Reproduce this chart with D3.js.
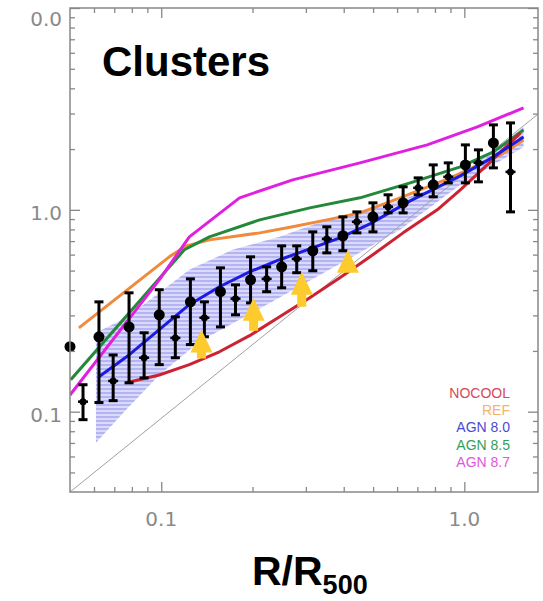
<!DOCTYPE html>
<html>
<head>
<meta charset="utf-8">
<script src="https://cdn.jsdelivr.net/npm/d3@7"></script>
<style>
  html, body { margin: 0; padding: 0; background: #fff; }
  svg { display: block; }
</style>
</head>
<body>
<div id="chart"></div>
<script>
// ---------- data (R/R500 vs K/K500) ----------
const xTickValues = [0.1, 1.0];
const xTickLabels = ["0.1", "1.0"];
const xMinorTicks = [0.06, 0.07, 0.08, 0.09, 0.2, 0.3, 0.4, 0.5, 0.6, 0.7, 0.8, 0.9];
const yTickValues = [0.1, 1.0, 10.0];
const yTickLabels = ["0.1", "1.0", "0.0"];
const yMinorTicks = [0.05, 0.06, 0.07, 0.08, 0.09, 0.2, 0.3, 0.4, 0.5, 0.6, 0.7, 0.8, 0.9, 2, 3, 4, 5, 6, 7, 8, 9];

// observed clusters, sample A (large dots)
const bigR  = [0.05, 0.0623, 0.0783, 0.0985, 0.1248, 0.1568, 0.1971, 0.2496, 0.3162, 0.3975, 0.4995, 0.6281, 0.7896, 1.008, 1.247];
const bigK  = [0.21, 0.235, 0.263, 0.302, 0.350, 0.393, 0.450, 0.522, 0.627, 0.744, 0.923, 1.083, 1.330, 1.670, 2.146];
const bigLo = [0.21, 0.111, 0.139, 0.171, 0.215, 0.263, 0.346, 0.411, 0.499, 0.627, 0.778, 0.966, 1.160, 1.360, 1.614];
const bigHi = [0.21, 0.350, 0.388, 0.402, 0.455, 0.516, 0.585, 0.663, 0.778, 0.923, 1.083, 1.300, 1.670, 2.098, 2.636];

// observed clusters, sample B (small dots)
const smallR  = [0.0552, 0.0694, 0.0878, 0.1113, 0.1388, 0.1758, 0.2227, 0.2799, 0.3518, 0.4421, 0.5603, 0.7042, 0.8851, 1.113, 1.420];
const smallK  = [0.1121, 0.142, 0.185, 0.232, 0.292, 0.363, 0.455, 0.572, 0.718, 0.872, 1.035, 1.285, 1.457, 1.709, 1.542];
const smallLo = [0.0913, 0.1134, 0.147, 0.185, 0.235, 0.302, 0.393, 0.488, 0.612, 0.769, 0.966, 1.187, 1.360, 1.376, 0.977];
const smallHi = [0.136, 0.191, 0.246, 0.295, 0.350, 0.425, 0.522, 0.663, 0.824, 0.977, 1.187, 1.440, 1.709, 1.982, 2.696];

// lower limits (yellow arrows)
const arrowR = [0.1357, 0.2017, 0.2908, 0.4128];
const arrowK = [0.255, 0.367, 0.493, 0.634];

// simulation models
const nocoolR = [0.0766, 0.0985, 0.1238, 0.1556, 0.1956, 0.2458, 0.3091, 0.3885, 0.4884, 0.6281, 0.8141, 0.970, 1.219, 1.532];
const nocoolK = [0.139, 0.152, 0.171, 0.198, 0.238, 0.295, 0.367, 0.461, 0.585, 0.769, 1.0, 1.256, 1.729, 2.406];

const refR = [0.0535, 0.1063, 0.1210, 0.1442, 0.2112, 0.2715, 0.3518, 0.4524, 0.6139, 0.8987, 1.316, 1.568];
const refK = [0.260, 0.585, 0.663, 0.710, 0.769, 0.824, 0.892, 0.966, 1.147, 1.440, 1.872, 2.221];

const agn80R = [0.0623, 0.0783, 0.0985, 0.1238, 0.1556, 0.1956, 0.2458, 0.3091, 0.3885, 0.4884, 0.6626, 0.970, 1.247, 1.568];
const agn80K = [0.149, 0.191, 0.255, 0.339, 0.416, 0.493, 0.566, 0.641, 0.727, 0.852, 1.108, 1.473, 1.830, 2.298];

const agn85R = [0.0503, 0.1192, 0.1442, 0.2112, 0.3091, 0.4524, 0.6626, 0.970, 1.247, 1.568];
const agn85K = [0.144, 0.634, 0.735, 0.892, 1.023, 1.147, 1.360, 1.633, 1.937, 2.489];

const agn87R = [0.05, 0.0985, 0.1238, 0.1813, 0.2715, 0.4524, 0.7542, 1.104, 1.568];
const agn87K = [0.121, 0.450, 0.735, 1.147, 1.408, 1.709, 2.098, 2.576, 3.199];

// AGN 8.0 scatter band
const bandUpR = [0.0609, 0.0766, 0.0985, 0.1238, 0.1718, 0.2458, 0.3518, 0.5821, 0.970, 1.568];
const bandUpK = [0.246, 0.292, 0.388, 0.505, 0.634, 0.735, 0.892, 1.083, 1.440, 2.576];
const bandLoR = [0.0609, 0.0766, 0.0985, 0.1336, 0.2227, 0.3683, 0.6139, 0.970, 1.568];
const bandLoK = [0.0702, 0.1023, 0.152, 0.222, 0.339, 0.516, 0.796, 1.330, 2.05];

// self-similar reference line
const baseR = [0.05, 1.75];
const baseK = [0.04, 2.98];

const legendNames = ["NOCOOL", "REF", "AGN 8.0", "AGN 8.5", "AGN 8.7"];

// ---------- layout ----------
const W = 543, H = 601;
const L = 70, R = 538, T = 8, B = 492;

const svg = d3.select("#chart").append("svg").attr("width", W).attr("height", H);

const x = d3.scaleLog().domain([0.05, 1.75]).range([L, R]);
const y = d3.scaleLog().domain([0.04, 10]).range([B, T]);

const defs = svg.append("defs");
const pat = defs.append("pattern").attr("id", "hatch").attr("patternUnits", "userSpaceOnUse")
  .attr("width", 8).attr("height", 4);
pat.append("rect").attr("width", 8).attr("height", 4).attr("fill", "rgba(150,150,240,0.35)");
pat.append("line").attr("x1", 0).attr("x2", 8).attr("y1", 1).attr("y2", 1)
  .attr("stroke", "rgba(80,80,230,0.55)").attr("stroke-width", 1);
defs.append("clipPath").attr("id", "clip").append("rect")
  .attr("x", L).attr("y", T).attr("width", R - L).attr("height", B - T);

const zip = (a, b) => a.map((v, i) => [v, b[i]]);
const line = d3.line().x(d => x(d[0])).y(d => y(d[1]));

const plot = svg.append("g").attr("clip-path", "url(#clip)");

// band
const bandPts = zip(bandUpR, bandUpK).concat(zip(bandLoR, bandLoK).reverse());
plot.append("path").attr("d", line(bandPts) + "Z").attr("fill", "url(#hatch)").attr("stroke", "none");

// baseline
plot.append("path").attr("d", line(zip(baseR, baseK))).attr("fill", "none")
  .attr("stroke", "#a0a0a0").attr("stroke-width", 1);

// model lines
const models = [
  { r: refR, k: refK, c: "#f08a3c" },
  { r: agn85R, k: agn85K, c: "#23883a" },
  { r: agn87R, k: agn87K, c: "#e020e0" },
  { r: nocoolR, k: nocoolK, c: "#cc2233" },
  { r: agn80R, k: agn80K, c: "#1c1ce0" }
];
models.forEach(m => {
  plot.append("path").attr("d", line(zip(m.r, m.k))).attr("fill", "none")
    .attr("stroke", m.c).attr("stroke-width", 3).attr("stroke-linejoin", "round");
});

// error bars + points
function drawSet(rs, ks, lo, hi, rad) {
  const g = svg.append("g");
  rs.forEach((r, i) => {
    const cx = x(r);
    if (hi[i] !== lo[i]) {
      g.append("line").attr("x1", cx).attr("x2", cx).attr("y1", y(lo[i])).attr("y2", y(hi[i]))
        .attr("stroke", "#000").attr("stroke-width", 3);
      [lo[i], hi[i]].forEach(v => {
        g.append("line").attr("x1", cx - 4.5).attr("x2", cx + 4.5).attr("y1", y(v)).attr("y2", y(v))
          .attr("stroke", "#000").attr("stroke-width", 3);
      });
    }
    g.append("circle").attr("cx", cx).attr("cy", y(ks[i])).attr("r", rad).attr("fill", "#000");
  });
}
drawSet(bigR, bigK, bigLo, bigHi, 5.5);
drawSet(smallR, smallK, smallLo, smallHi, 3.5);
smallR.forEach((r, i) => {
  svg.append("line").attr("x1", x(r) - 5).attr("x2", x(r) + 5).attr("y1", y(smallK[i])).attr("y2", y(smallK[i]))
    .attr("stroke", "#000").attr("stroke-width", 2.5);
});

// arrows (lower limits)
const stems = [6, 10, 12, 0];
arrowR.forEach((r, i) => {
  const ax = x(r), ay = y(arrowK[i]);
  const s = stems[i];
  let d = `M${ax},${ay} L${ax + 11},${ay + 23} L${ax + 4.5},${ay + 23}`;
  d += ` L${ax + 4.5},${ay + 23 + s} L${ax - 4.5},${ay + 23 + s} L${ax - 4.5},${ay + 23}`;
  d += ` L${ax - 11},${ay + 23} Z`;
  svg.append("path").attr("d", d).attr("fill", "#fecb2e");
});

// axes (ticks inside on all sides)
const axisColor = "#888";
function styleAxis(g) {
  g.select(".domain").remove();
  g.selectAll("line").attr("stroke", axisColor).attr("stroke-width", 1.3);
  g.selectAll("text").remove();
}
svg.append("g").attr("transform", `translate(0,${B})`)
  .call(d3.axisBottom(x).tickValues(xTickValues).tickSize(-10)).call(styleAxis);
svg.append("g").attr("transform", `translate(0,${B})`)
  .call(d3.axisBottom(x).tickValues(xMinorTicks).tickSize(-5)).call(styleAxis);
svg.append("g").attr("transform", `translate(0,${T})`)
  .call(d3.axisTop(x).tickValues(xTickValues).tickSize(-10)).call(styleAxis);
svg.append("g").attr("transform", `translate(0,${T})`)
  .call(d3.axisTop(x).tickValues(xMinorTicks).tickSize(-5)).call(styleAxis);
svg.append("g").attr("transform", `translate(${L},0)`)
  .call(d3.axisLeft(y).tickValues(yTickValues).tickSize(-10)).call(styleAxis);
svg.append("g").attr("transform", `translate(${L},0)`)
  .call(d3.axisLeft(y).tickValues(yMinorTicks).tickSize(-5)).call(styleAxis);
svg.append("g").attr("transform", `translate(${R},0)`)
  .call(d3.axisRight(y).tickValues(yTickValues).tickSize(-10)).call(styleAxis);
svg.append("g").attr("transform", `translate(${R},0)`)
  .call(d3.axisRight(y).tickValues(yMinorTicks).tickSize(-5)).call(styleAxis);

svg.append("rect").attr("x", L).attr("y", T).attr("width", R - L).attr("height", B - T)
  .attr("fill", "none").attr("stroke", axisColor).attr("stroke-width", 1.5);

// tick labels
const tickFont = "'DejaVu Sans', sans-serif";
xTickValues.forEach((v, i) => {
  svg.append("text").attr("x", x(v)).attr("y", 526).attr("text-anchor", "middle")
    .attr("font-family", tickFont).attr("font-size", 20).attr("fill", "#8a8a8a").text(xTickLabels[i]);
});
yTickValues.forEach((v, i) => {
  svg.append("text").attr("x", 62).attr("y", Math.max(y(v) + 10, 26)).attr("text-anchor", "end")
    .attr("font-family", tickFont).attr("font-size", 20).attr("fill", "#8a8a8a").text(yTickLabels[i]);
});

// title
svg.append("text").attr("x", 102).attr("y", 76)
  .attr("font-family", "'Liberation Sans', Arial, sans-serif").attr("font-weight", "bold")
  .attr("font-size", 42).attr("fill", "#000").text("Clusters");

// x-axis title
const xt = svg.append("text").attr("x", 252).attr("y", 585)
  .attr("font-family", "'Liberation Sans', Arial, sans-serif").attr("font-weight", "bold")
  .attr("font-size", 41).attr("fill", "#000");
xt.append("tspan").text("R/R");
xt.append("tspan").attr("font-size", 27).attr("dy", 9).text("500");

// legend
const legendColors = ["#d8475a", "#f5b36a", "#4a4ad6", "#33a05a", "#e055e0"];
legendNames.forEach((n, i) => {
  svg.append("text").attr("x", 510).attr("y", 398 + i * 17.2).attr("text-anchor", "end")
    .attr("font-family", "'Liberation Sans', Arial, sans-serif").attr("font-size", 14)
    .attr("fill", legendColors[i]).text(n);
});
</script>
</body>
</html>
